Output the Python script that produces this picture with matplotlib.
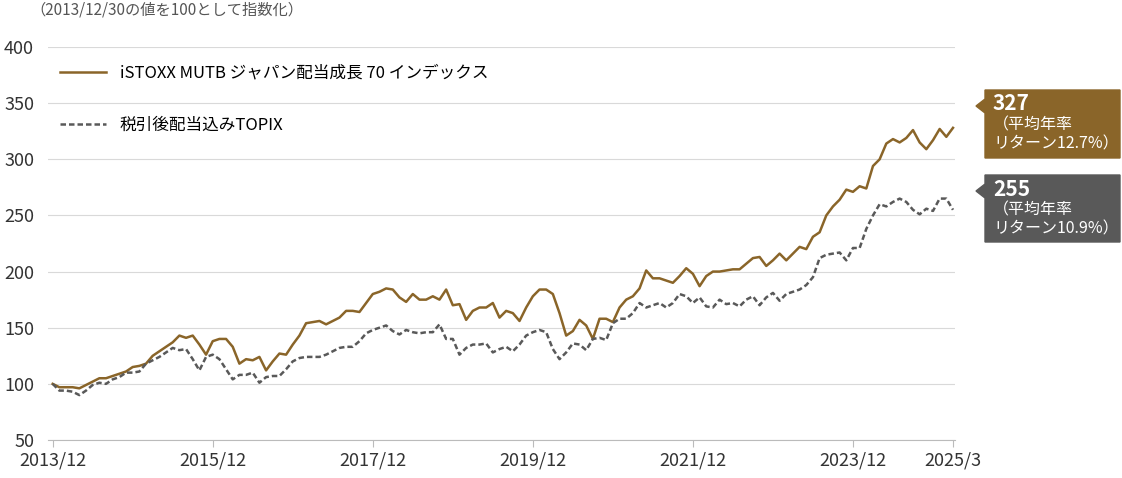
import numpy as np
import matplotlib
matplotlib.use("Agg")
import matplotlib.pyplot as plt
from matplotlib.patches import Polygon

plt.rcParams['font.family'] = ['Noto Sans CJK JP', 'DejaVu Sans']

# monthly index values, 2013/12 .. 2025/3
mutb = [100, 97, 97, 97, 96, 99, 102, 105, 105, 107, 109, 111,
        115, 116, 118, 125, 129, 133, 137, 143, 141, 143, 135, 126,
        138, 140, 140, 133, 118, 122, 121, 124, 112, 120, 127, 126,
        135, 143, 154, 155, 156, 153, 156, 159, 165, 165, 164, 172,
        180, 182, 185, 184, 177, 173, 180, 175, 175, 178, 175, 184,
        170, 171, 157, 165, 168, 168, 172, 159, 165, 163, 156, 168,
        178, 184, 184, 180, 163, 143, 147, 157, 152, 140, 158, 158,
        155, 168, 175, 178, 185, 201, 194, 194, 192, 190, 196, 203,
        198, 187, 196, 200, 200, 201, 202, 202, 207, 212, 213, 205,
        210, 216, 210, 216, 222, 220, 231, 235, 250, 258, 264, 273,
        271, 276, 274, 294, 300, 314, 318, 315, 319, 326, 315, 309,
        317, 327, 320, 328]
topix = [100, 94, 94, 93, 90, 94, 99, 101, 100, 104, 106, 110,
         110, 111, 118, 121, 124, 128, 132, 130, 131, 122, 112, 124,
         126, 122, 113, 104, 108, 108, 110, 101, 106, 107, 107, 113,
         120, 123, 124, 124, 124, 126, 129, 132, 133, 133, 138, 145,
         148, 150, 152, 147, 144, 148, 146, 145, 146, 146, 153, 140,
         140, 126, 132, 135, 135, 136, 128, 131, 133, 129, 135, 143,
         146, 148, 146, 131, 122, 128, 136, 135, 130, 140, 141, 139,
         154, 158, 158, 163, 172, 168, 170, 172, 168, 172, 180, 178,
         172, 177, 169, 168, 175, 171, 172, 169, 175, 178, 170, 177,
         181, 174, 180, 182, 184, 188, 195, 212, 215, 216, 217, 210,
         221, 221, 238, 250, 260, 258, 262, 265, 262, 255, 251, 256,
         254, 265, 265, 255]
tick_pos = [0, 24, 48, 72, 96, 120, 135]
tick_labels = ["2013/12", "2015/12", "2017/12", "2019/12", "2021/12", "2023/12", "2025/3"]
label_mutb = "iSTOXX MUTB ジャパン配当成長 70 インデックス"
label_topix = "税引後配当込みTOPIX"

GOLD = "#8a6529"
GREY = "#595959"
W, H = 1122, 478

fig = plt.figure(figsize=(W / 100, H / 100), dpi=100)
ax = fig.add_axes([48 / W, 38 / H, 907 / W, 393 / H])
x = np.arange(len(mutb))
ax.plot(x, mutb, color=GOLD, lw=1.8, label=label_mutb)
ax.plot(x, topix, color=GREY, lw=1.8, ls=(0, (2.2, 1.2)), label=label_topix)
ax.set_xlim(-0.7, 135.3)
ax.set_ylim(50, 400)
ax.set_yticks(range(50, 401, 50))
ax.set_xticks(tick_pos)
ax.set_xticklabels(tick_labels)
ax.grid(axis="y", color="#d9d9d9", lw=0.8)
ax.set_axisbelow(True)
for s in ["top", "right", "left"]:
    ax.spines[s].set_visible(False)
ax.spines["bottom"].set_color("#bbbbbb")
ax.tick_params(axis="y", length=0, labelsize=13, colors="#333333", pad=10)
ax.tick_params(axis="x", length=5, color="#bbbbbb", labelsize=13, colors="#333333")
ax.legend(loc="upper left", bbox_to_anchor=(0.0, 0.985), frameon=False,
          fontsize=12, handlelength=2.8, labelspacing=2.1, borderaxespad=0.3)
fig.text(30 / W, 1 - 10 / H, "（2013/12/30の値を100として指数化）", fontsize=11,
         color="#555555", va="center")


def tag(y0, y1, tip, color, big, small):
    x0, x1 = 985, 1120
    pts = [(x0, y0), (x1, y0), (x1, y1), (x0, y1), (x0, tip + 7), (x0 - 9, tip), (x0, tip - 7)]
    fig.add_artist(Polygon([(px / W, 1 - py / H) for px, py in pts],
                           closed=True, color=color, transform=fig.transFigure))
    fig.text(993 / W, 1 - (y0 + 14) / H, big, fontsize=15, fontweight="bold",
             color="white", va="center")
    fig.text(993 / W, 1 - (y0 + 44) / H, small, fontsize=11.5, color="white",
             va="center", linespacing=1.15)


tag(90, 158, 106, GOLD, "327", "（平均年率\nリターン12.7%）")
tag(175, 242, 191, GREY, "255", "（平均年率\nリターン10.9%）")

fig.savefig("out.png", dpi=100)
